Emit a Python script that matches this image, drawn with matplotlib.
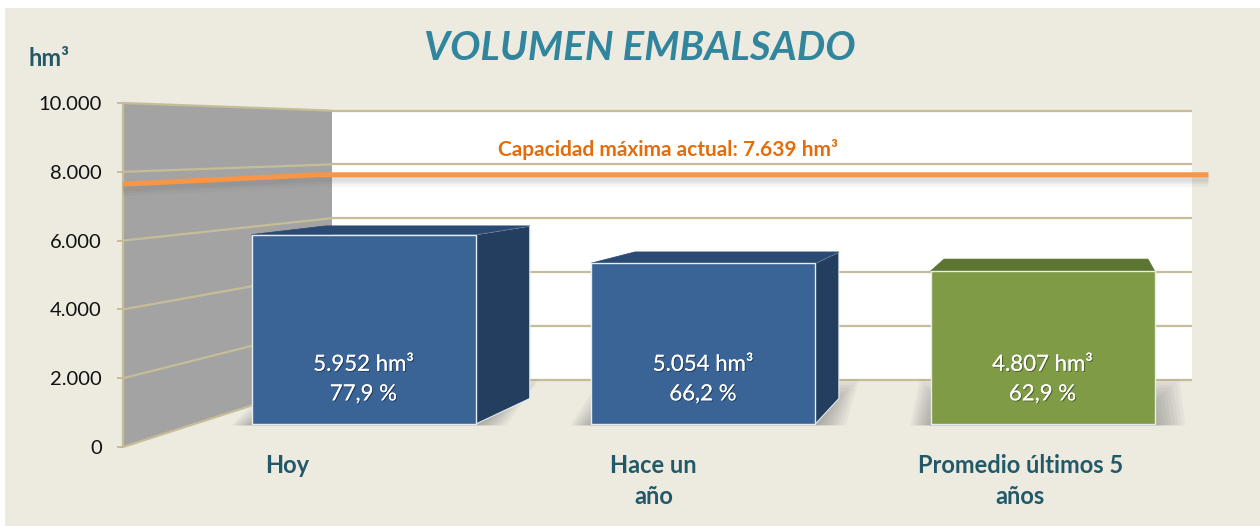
import matplotlib
matplotlib.use("Agg")
import matplotlib.pyplot as plt
from matplotlib.patches import Polygon, Rectangle
import matplotlib.patheffects as pe

# ---------------- data ----------------
title = "VOLUMEN EMBALSADO"
unit_label = "hm³"
categories = ["Hoy", "Hace un\naño", "Promedio últimos 5\naños"]
volumes = [5952, 5054, 4807]          # hm3
percents = [77.9, 66.2, 62.9]         # %
capacity = 7639                        # hm3
yticks = [0, 2000, 4000, 6000, 8000, 10000]
ytick_labels = ["0", "2.000", "4.000", "6.000", "8.000", "10.000"]

# ---------------- style ----------------
FONT = "Lato"
plt.rcParams["font.family"] = [FONT, "DejaVu Sans"]
BG = "#EDEAE0"
GRID = "#C4BD97"
WALL_SIDE = "#A3A3A3"
TEAL_DARK = "#215968"
TITLE_C = "#31859C"
ORANGE = "#F79646"
ORANGE_TXT = "#E46C0A"
FRONT = ["#3A6495", "#3A6495", "#7F9B46"]
TOP = ["#2A4A74", "#2A4A74", "#5C7531"]
SIDE = ["#233E5F", "#233E5F", "#4F6628"]

def thousands(v):
    return f"{v:,}".replace(",", ".")

def pct(p):
    return f"{p:.1f}".replace(".", ",") + " %"

W, H = 1260, 526
fig = plt.figure(figsize=(W / 100, H / 100), dpi=100)
fig.patch.set_facecolor("white")
fig.patches.append(Rectangle((5 / W, 0), 1, (H - 8) / H, transform=fig.transFigure,
                             facecolor=BG, edgecolor="none", zorder=-10))

ax = fig.add_axes([123 / W, 79 / H, 1100 / W, 344 / H])
ax.set_xlim(-0.5, 2.5)
ax.set_ylim(0, 10000)
ax.patch.set_alpha(0)
for s in ["top", "right", "bottom"]:
    ax.spines[s].set_visible(False)
ax.spines["left"].set_color(GRID)
ax.spines["left"].set_linewidth(1.6)
ax.set_xticks([])
ax.set_yticks(yticks)
ax.set_yticklabels(ytick_labels)
ax.tick_params(axis="y", direction="out", length=4.3, width=1.4, color=GRID,
               labelsize=14.5, pad=11, labelcolor="#111111")

# perspective: points move toward vanishing point (data coords) by depth scale s
VPc, VPv = 2.11, 8983
S_WALL = 0.7816
S_LINE = 0.796
S_FRONT = 0.926
S_BACK = 0.843
BAR_W = 0.66
X0, X1 = -0.5, 2.5

def P(c, v, s):
    return (VPc + (c - VPc) * s, VPv + (v - VPv) * s)

def poly(pts, **kw):
    kw.setdefault("clip_on", False)
    p = Polygon(pts, closed=True, **kw)
    ax.add_patch(p)
    return p

def line(pts, **kw):
    xs = [p[0] for p in pts]
    ys = [p[1] for p in pts]
    ax.plot(xs, ys, clip_on=False, solid_capstyle="butt", **kw)

# back wall
poly([P(X0, 0, S_WALL), P(X1, 0, S_WALL), P(X1, yticks[-1], S_WALL), P(X0, yticks[-1], S_WALL)],
     facecolor="white", edgecolor="none", zorder=1)
# left wall
poly([P(X0, 0, 1), P(X0, yticks[-1], 1), P(X0, yticks[-1], S_WALL), P(X0, 0, S_WALL)],
     facecolor=WALL_SIDE, edgecolor="none", zorder=2)
# grid lines
for t in yticks:
    line([P(X0, t, S_WALL), P(X1, t, S_WALL)], color=GRID, lw=1.6, zorder=1.5)
    line([P(X0, t, 1), P(X0, t, S_WALL)], color=GRID, lw=1.6, zorder=2.5)

# capacity line (with soft shadow)
cap_pts = [P(X0, capacity, 1), P(X0, capacity, S_LINE), P(2.55, capacity, S_LINE)]
for dv, lw, a in [(-170, 9, 0.06), (-140, 6, 0.08), (-120, 4, 0.08)]:
    line([(x, y + dv) for x, y in cap_pts], color="#606060", lw=lw, alpha=a, zorder=3)
line(cap_pts, color=ORANGE, lw=3.6, zorder=3.5)
cx, cy = P(0.70, capacity, S_LINE)
ax.annotate(f"Capacidad máxima actual: {thousands(capacity)} hm³", xy=(cx, cy),
            xytext=(0, 18), textcoords="offset points", ha="center", va="center",
            fontsize=15, fontweight="bold", color=ORANGE_TXT, annotation_clip=False, zorder=4)

# bars
for i, (v, p) in enumerate(zip(volumes, percents)):
    c0, c1 = i - BAR_W / 2, i + BAR_W / 2
    # soft shadow on floor
    for j in range(10):
        t = j / 9
        ext_l = 0.06 * (1 - t)
        ext_r = 0.09 * (1 - t)
        hgt = 900 * (1 - t) + 50
        poly([P(c0 - ext_l, -40, S_FRONT), P(c1 + ext_r, -40, S_FRONT),
              P(c1 + ext_r, hgt, S_BACK + 0.03), P(c0 - ext_l, hgt, S_BACK + 0.03)],
             facecolor="#505050", edgecolor="none", alpha=0.05, zorder=4)
    if c1 < VPc:
        poly([P(c1, 0, S_FRONT), P(c1, 0, S_BACK), P(c1, v, S_BACK), P(c1, v, S_FRONT)],
             facecolor=SIDE[i], edgecolor="#E6ECF3", lw=0.8, zorder=5)
    if c0 > VPc:
        poly([P(c0, 0, S_FRONT), P(c0, 0, S_BACK), P(c0, v, S_BACK), P(c0, v, S_FRONT)],
             facecolor=SIDE[i], edgecolor="#E6ECF3", lw=0.8, zorder=5)
    poly([P(c0, v, S_FRONT), P(c1, v, S_FRONT), P(c1, v, S_BACK), P(c0, v, S_BACK)],
         facecolor=TOP[i], edgecolor=TOP[i], lw=0.5, zorder=5.5)
    poly([P(c0, 0, S_FRONT), P(c1, 0, S_FRONT), P(c1, v, S_FRONT), P(c0, v, S_FRONT)],
         facecolor=FRONT[i], edgecolor="#E6ECF3", lw=1.0, zorder=6)
    tx, ty = P(i, 1400, S_FRONT)
    ax.text(tx, ty, f"{thousands(v)} hm³\n{pct(p)}", ha="center", va="center",
            fontsize=16, color="white", linespacing=1.6, zorder=7, clip_on=False,
            path_effects=[pe.withSimplePatchShadow(offset=(0.8, -0.8), shadow_rgbFace="black", alpha=0.35),
                          pe.Normal()])

# category labels
for i, lab in enumerate(categories):
    ax.annotate(lab, xy=(i, 0), xytext=(-14, -5), textcoords="offset points",
                ha="center", va="top", fontsize=17, fontweight="bold", color=TEAL_DARK,
                linespacing=1.4, annotation_clip=False)

fig.text(640 / W, 1 - 49 / H, title, ha="center", va="center", fontsize=29,
         fontweight="bold", fontstyle="italic", color=TITLE_C)
fig.text(28 / W, 1 - 59 / H, unit_label, ha="left", va="center", fontsize=17,
         fontweight="bold", color=TEAL_DARK)

fig.savefig("out.png", dpi=100, facecolor=fig.get_facecolor())
